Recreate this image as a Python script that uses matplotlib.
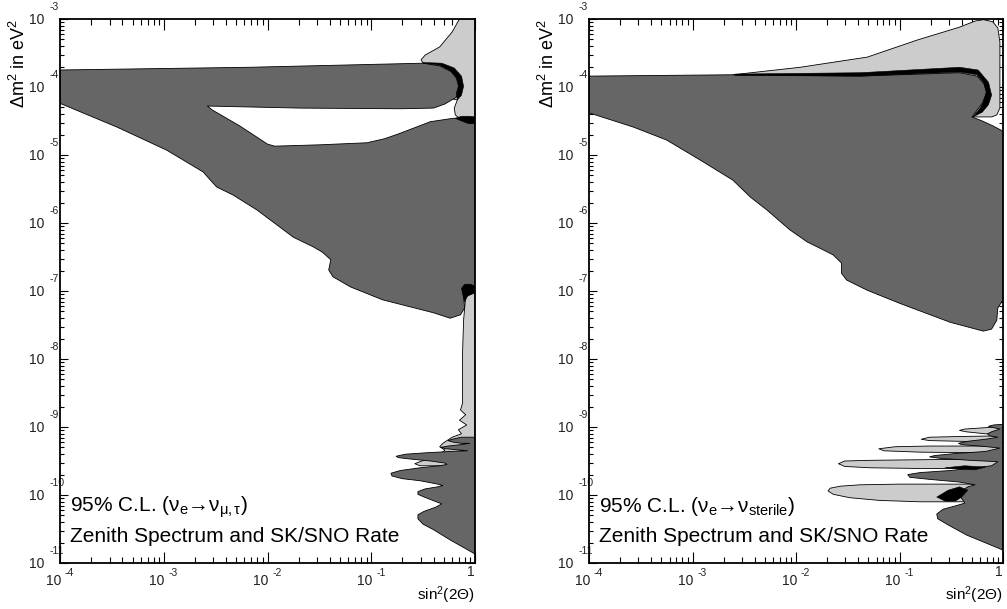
import numpy as np
import matplotlib
matplotlib.use('Agg')
import matplotlib.pyplot as plt
from matplotlib.transforms import blended_transform_factory, ScaledTranslation
from matplotlib.ticker import LogLocator, NullFormatter

plt.rcParams['font.family'] = ['Liberation Sans', 'DejaVu Sans']
plt.rcParams['mathtext.fontset'] = 'custom'
plt.rcParams['mathtext.rm'] = 'Liberation Sans'
plt.rcParams['mathtext.it'] = 'Liberation Sans'
plt.rcParams['mathtext.sf'] = 'Liberation Sans'
plt.rcParams['mathtext.bf'] = 'Liberation Sans'

DARK = '#666666'
LIGHT = '#cccccc'

# ---------------- data: contour boundaries as (log10 sin^2 2theta, log10 dm^2) ----------------
# Left panel: nu_e -> nu_mu,tau
A_dark_lx = [-4.00, -2.17, -0.50, -0.34, -0.22, -0.15, -0.14, -0.18, -0.29, -0.40, -0.72, -1.69, -2.58,
             -2.53, -2.27, -2.00, -1.93, -1.49, -1.04, -0.87, -0.72, -0.43, -0.21, 0.00, 0.00, -0.09,
             -0.11, -0.10, -0.14, -0.24, -0.40, -0.89, -1.20, -1.37, -1.41, -1.39, -1.47, -1.56, -1.75,
             -2.10, -2.33, -2.49, -2.55, -2.62, -2.97, -3.45, -4.00]
A_dark_ly = [-3.75, -3.71, -3.65, -3.69, -3.78, -3.90, -4.01, -4.15, -4.25, -4.31, -4.32, -4.31, -4.28,
             -4.34, -4.57, -4.84, -4.87, -4.85, -4.82, -4.76, -4.68, -4.51, -4.46, -4.46, -6.96, -6.99,
             -7.09, -7.25, -7.35, -7.40, -7.32, -7.13, -6.94, -6.79, -6.69, -6.54, -6.43, -6.35, -6.21,
             -5.81, -5.59, -5.47, -5.37, -5.25, -4.93, -4.59, -4.24]

A_light_lx = [-0.15, -0.22, -0.34, -0.48, -0.52, -0.50, -0.34, -0.26, -0.17, -0.20, -0.19, -0.13, 0.00, 0.00]
A_light_ly = [-3.00, -3.19, -3.41, -3.53, -3.60, -3.65, -3.90, -4.16, -4.19, -4.31, -4.41, -4.49, -4.49, -3.00]

A_black1_lx = [-0.50, -0.32, -0.20, -0.13, -0.11, -0.13, -0.17, -0.18, -0.16, -0.18, -0.24, -0.34, -0.50]
A_black1_ly = [-3.64, -3.65, -3.72, -3.84, -3.99, -4.12, -4.19, -4.09, -3.99, -3.87, -3.76, -3.68, -3.65]

A_black2_lx = [-0.19, -0.13, -0.05, 0.00, 0.00, -0.06, -0.13]
A_black2_ly = [-4.46, -4.43, -4.43, -4.44, -4.54, -4.54, -4.50]

A_black3_lx = [-0.13, -0.10, -0.04, 0.00, 0.00, -0.07, -0.10, -0.12]
A_black3_ly = [-6.96, -6.90, -6.90, -6.93, -7.03, -7.07, -7.16, -7.04]

A_strip_lx = [0.00, -0.09, -0.11, -0.12, -0.12, -0.14, -0.09, -0.15, -0.08, -0.16, -0.13, -0.22, -0.26,
              -0.31, -0.34, -0.29, -0.34, -0.53, -0.58, -0.53, -0.24, 0.00]
A_strip_ly = [-7.01, -7.09, -7.43, -7.91, -8.65, -8.75, -8.82, -8.90, -8.97, -9.04, -9.10, -9.15, -9.19,
              -9.24, -9.29, -9.34, -9.41, -9.51, -9.54, -9.57, -9.57, -9.57]

A_osc_lx = [0.00, -0.13, -0.22, -0.26, -0.22, -0.13, -0.05, -0.14, -0.26, -0.33, -0.28, -0.14, -0.07,
            -0.24, -0.48, -0.67, -0.76, -0.74, -0.63, -0.43, -0.29, -0.27, -0.34, -0.53, -0.72, -0.81,
            -0.80, -0.70, -0.53, -0.36, -0.31, -0.36, -0.48, -0.55, -0.55, -0.49, -0.39, -0.32, -0.38,
            -0.49, -0.55, -0.55, -0.50, -0.40, -0.24, -0.02, 0.00]
A_osc_ly = [-9.15, -9.15, -9.18, -9.20, -9.22, -9.24, -9.24, -9.26, -9.28, -9.30, -9.32, -9.34, -9.35,
            -9.36, -9.38, -9.40, -9.43, -9.45, -9.47, -9.50, -9.53, -9.55, -9.57, -9.60, -9.64, -9.68,
            -9.72, -9.76, -9.79, -9.84, -9.86, -9.88, -9.91, -9.95, -9.99, -10.03, -10.09, -10.13, -10.18,
            -10.24, -10.29, -10.35, -10.43, -10.51, -10.66, -10.85, -10.87]

# Right panel: nu_e -> nu_sterile
B_dark_lx = [-4.00, -2.61, -1.38, -0.42, -0.25, -0.18, -0.16, -0.20, -0.27, -0.30, -0.20, -0.10, 0.00,
             0.00, -0.05, -0.06, -0.11, -0.19, -0.51, -1.00, -1.31, -1.51, -1.56, -1.56, -1.64, -1.77,
             -1.89, -2.06, -2.28, -2.44, -2.61, -2.93, -3.25, -3.57, -4.00]
B_dark_ly = [-3.84, -3.82, -3.84, -3.79, -3.84, -3.96, -4.09, -4.24, -4.38, -4.44, -4.50, -4.57, -4.65,
             -7.13, -7.25, -7.43, -7.56, -7.59, -7.46, -7.18, -6.99, -6.84, -6.74, -6.59, -6.47, -6.37,
             -6.28, -6.10, -5.81, -5.62, -5.37, -5.07, -4.78, -4.59, -4.38]

B_light_lx = [-2.61, -1.96, -1.31, -0.83, -0.42, -0.27, -0.19, -0.10, -0.05, -0.03, -0.03, -0.06, -0.11,
              -0.30, -0.42, -1.96]
B_light_ly = [-3.82, -3.71, -3.56, -3.31, -3.12, -3.03, -3.01, -3.04, -3.13, -3.34, -4.31, -4.41, -4.44,
              -4.44, -4.04, -3.90]

B_black1_lx = [-2.59, -1.38, -0.42, -0.24, -0.14, -0.11, -0.14, -0.20, -0.29, -0.22, -0.19, -0.16, -0.19,
               -0.25, -0.42, -1.38, -2.59]
B_black1_ly = [-3.81, -3.79, -3.71, -3.75, -3.93, -4.12, -4.26, -4.37, -4.44, -4.31, -4.22, -4.07, -3.93,
               -3.82, -3.78, -3.84, -3.83]

B_osc_lx = [0.00, -0.09, -0.14, -0.09, -0.03, -0.11, -0.15, -0.13, -0.05, -0.17, -0.34, -0.43, -0.40,
            -0.22, -0.03, -0.17, -0.46, -0.66, -0.71, -0.61, -0.32, -0.05, -0.11, -0.27, -0.51, -0.80,
            -0.92, -0.90, -0.71, -0.42, -0.27, -0.34, -0.40, -0.42, -0.38, -0.37, -0.46, -0.58, -0.64,
            -0.63, -0.53, -0.35, 0.00]
B_osc_ly = [-8.96, -8.97, -8.99, -9.01, -9.03, -9.07, -9.10, -9.13, -9.15, -9.18, -9.21, -9.24, -9.26,
            -9.28, -9.31, -9.36, -9.39, -9.42, -9.44, -9.46, -9.49, -9.51, -9.57, -9.60, -9.64, -9.67,
            -9.70, -9.74, -9.77, -9.81, -9.85, -9.88, -9.94, -10.01, -10.09, -10.12, -10.16, -10.21,
            -10.28, -10.35, -10.44, -10.59, -10.81]

B_fing_lx = [0.00, -0.17, -0.37, -0.42, -0.36, -0.17, -0.03, -0.03, -0.42, -0.71, -0.79, -0.71, -0.42,
             -0.08, -0.08, -0.71, -1.04, -1.20, -1.15, -0.80, -0.13, -0.13, -0.71, -1.28, -1.53, -1.59,
             -1.53, -1.28, -0.80, -0.42, -0.17, -0.17, -1.00, -1.38, -1.57, -1.67, -1.69, -1.64, -1.48,
             -1.19, -0.80, -0.42, 0.00]
B_fing_ly = [-8.99, -9.01, -9.03, -9.05, -9.07, -9.10, -9.10, -9.13, -9.14, -9.15, -9.18, -9.20, -9.21,
             -9.22, -9.28, -9.28, -9.29, -9.32, -9.35, -9.37, -9.38, -9.47, -9.48, -9.49, -9.50, -9.54,
             -9.58, -9.60, -9.61, -9.61, -9.63, -9.84, -9.84, -9.85, -9.87, -9.90, -9.94, -9.99, -10.04,
             -10.08, -10.10, -10.10, -10.09]

B_black2_lx = [-0.64, -0.53, -0.42, -0.34, -0.40, -0.46, -0.56]
B_black2_ly = [-10.03, -9.93, -9.88, -9.93, -10.03, -10.09, -10.09]

B_black3_lx = [-0.56, -0.37, -0.17, -0.27, -0.42]
B_black3_ly = [-9.60, -9.57, -9.59, -9.63, -9.62]

x_decades = [-4, -3, -2, -1]
y_decades = [-11, -10, -9, -8, -7, -6, -5, -4, -3]
line1_texts = [r"95% C.L. ($\nu_{e}$→$\nu_{\mu,\tau}$)",
               r"95% C.L. ($\nu_{e}$→$\nu_{sterile}$)"]
line2_text = "Zenith Spectrum and SK/SNO Rate"

# ---------------- figure ----------------
fig = plt.figure(figsize=(10.07, 6.09), dpi=100)
ax_left = fig.add_axes([60/1007, 1-563/609, 415/1007, 544/609])
ax_right = fig.add_axes([589/1007, 1-563/609, 414/1007, 544/609])


def poly(ax, lx, ly, color, lw=0.6, z=2):
    ax.fill(10**np.asarray(lx), 10**np.asarray(ly), facecolor=color, edgecolor='black',
            linewidth=lw, zorder=z, joinstyle='round')


def off(dx, dy):
    return ScaledTranslation(dx/100, dy/100, fig.dpi_scale_trans)


def style(ax):
    ax.set_xscale('log')
    ax.set_yscale('log')
    ax.set_xlim(1e-4, 1)
    ax.set_ylim(1e-11, 1e-3)
    for a in (ax.xaxis, ax.yaxis):
        a.set_major_locator(LogLocator(base=10, numticks=30))
        a.set_minor_locator(LogLocator(base=10, subs=np.arange(2, 10), numticks=300))
        a.set_minor_formatter(NullFormatter())
    ax.tick_params(axis='x', which='major', direction='in', length=8, width=0.8, top=True, bottom=True,
                   labelbottom=False)
    ax.tick_params(axis='x', which='minor', direction='in', length=4, width=0.8, top=True, bottom=True)
    ax.tick_params(axis='y', which='major', direction='in', length=5.5, width=0.8, left=True, right=True,
                   labelleft=False)
    ax.tick_params(axis='y', which='minor', direction='in', length=2.8, width=0.8, left=True, right=True)
    for s in ax.spines.values():
        s.set_linewidth(1.3)
        s.set_zorder(10)
    tx = blended_transform_factory(ax.transData, ax.transAxes)
    for e in x_decades:
        ax.text(10.0**e, 0, "10", transform=tx + off(1, -18), ha='right', va='center', fontsize=10,
                color='#222222')
        ax.text(10.0**e, 0, str(e), transform=tx + off(5, -10), ha='left', va='center', fontsize=7.5,
                color='#222222')
    ax.text(1, 0, "1", transform=tx + off(0, -9), ha='right', va='center', fontsize=10, color='#222222')
    ty = blended_transform_factory(ax.transAxes, ax.transData)
    for e in y_decades:
        ax.text(0, 10.0**e, "10", transform=ty + off(-16, -1), ha='right', va='center', fontsize=10,
                color='#222222')
        ax.text(0, 10.0**e, str(e), transform=ty + off(-10, 12), ha='left', va='center', fontsize=7.5,
                color='#222222')
    ax.text(1, 0, r"sin$^{2}$(2$\Theta$)", transform=ax.transAxes + off(0, -32), ha='right', va='center',
            fontsize=11)
    ax.text(0, 1, r"$\Delta$m$^{2}$ in eV$^{2}$", transform=ax.transAxes + off(-41, 0), ha='center',
            va='top', rotation=90, fontsize=13)


# left panel
poly(ax_left, A_light_lx, A_light_ly, LIGHT)
poly(ax_left, A_strip_lx, A_strip_ly, LIGHT)
poly(ax_left, A_dark_lx, A_dark_ly, DARK, z=3)
poly(ax_left, A_osc_lx, A_osc_ly, DARK, z=3)
poly(ax_left, A_black1_lx, A_black1_ly, 'black', lw=0.4, z=4)
poly(ax_left, A_black2_lx, A_black2_ly, 'black', lw=0.4, z=4)
poly(ax_left, A_black3_lx, A_black3_ly, 'black', lw=0.4, z=4)

# right panel
poly(ax_right, B_light_lx, B_light_ly, LIGHT)
poly(ax_right, B_fing_lx, B_fing_ly, LIGHT)
poly(ax_right, B_dark_lx, B_dark_ly, DARK, z=3)
poly(ax_right, B_osc_lx, B_osc_ly, DARK, z=3)
poly(ax_right, B_black1_lx, B_black1_ly, 'black', lw=0.4, z=4)
poly(ax_right, B_black2_lx, B_black2_ly, 'black', lw=0.4, z=4)
poly(ax_right, B_black3_lx, B_black3_ly, 'black', lw=0.4, z=4)

for ax, t1 in zip((ax_left, ax_right), line1_texts):
    style(ax)
    ax.text(10/415, (563-512)/544, t1, transform=ax.transAxes, ha='left', va='baseline', fontsize=15,
            zorder=6)
    ax.text(10/415, (563-542)/544, line2_text, transform=ax.transAxes, ha='left', va='baseline',
            fontsize=15, zorder=6)

fig.savefig('out.png', dpi=100)
